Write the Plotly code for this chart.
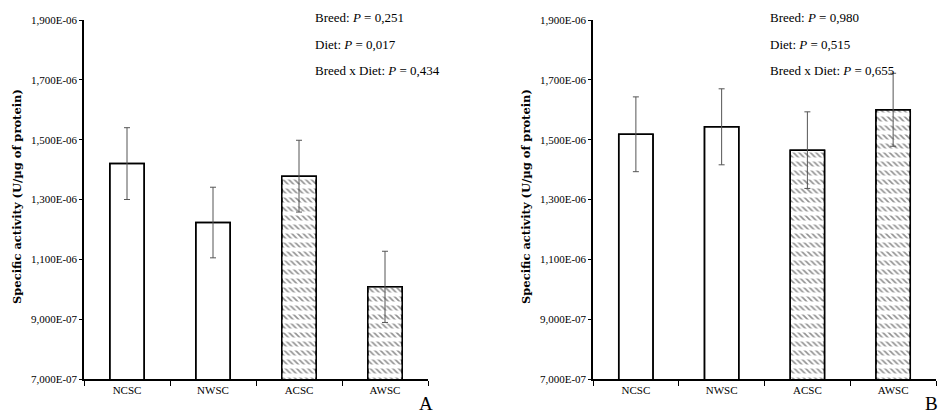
import plotly.graph_objects as go

categories = ["NCSC", "NWSC", "ACSC", "AWSC"]
values_a = [1.42e-6, 1.223e-6, 1.378e-6, 1.008e-6]
errors_a = [1.2e-7, 1.18e-7, 1.2e-7, 1.19e-7]
values_b = [1.518e-6, 1.543e-6, 1.465e-6, 1.600e-6]
errors_b = [1.25e-7, 1.27e-7, 1.28e-7, 1.22e-7]
hatch = ["", "", "\\", "\\"]
rows = ["", "", "-", "-"]
tick_vals = [7e-7, 9e-7, 1.1e-6, 1.3e-6, 1.5e-6, 1.7e-6, 1.9e-6]
tick_text = ["7,000E-07", "9,000E-07", "1,100E-06", "1,300E-06", "1,500E-06", "1,700E-06", "1,900E-06"]
stats_a = [("Breed", "0,251"), ("Diet", "0,017"), ("Breed x Diet", "0,434")]
stats_b = [("Breed", "0,980"), ("Diet", "0,515"), ("Breed x Diet", "0,655")]
y_title = "Specific activity (U/µg of protein)"

FONT = "Liberation Serif"
W, H = 942, 416

fig = go.Figure()

def add_panel(vals, errs, xa, ya):
    fig.add_trace(go.Bar(
        x=categories, y=vals, xaxis=xa, yaxis=ya, width=0.4,
        marker=dict(color="white", line=dict(color="black", width=1.5),
                    pattern=dict(shape=hatch, fgcolor="#222222", size=4, solidity=0.4)),
        showlegend=False, hoverinfo="skip"))
    fig.add_trace(go.Bar(
        x=categories, y=vals, xaxis=xa, yaxis=ya, width=0.4,
        marker=dict(color="rgba(0,0,0,0)", line=dict(color="black", width=1.5),
                    pattern=dict(shape=rows, fillmode="overlay", fgcolor="#ffffff", fgopacity=1,
                                 size=9, solidity=0.45)),
        error_y=dict(type="data", array=errs, visible=True, color="#555555", thickness=1, width=3),
        showlegend=False, hoverinfo="skip"))

add_panel(values_a, errors_a, "x", "y")
add_panel(values_b, errors_b, "x2", "y2")

ydom = [1 - 379 / H, 1 - 20 / H]
xcommon = dict(type="category", showline=True, linecolor="black", linewidth=1.5,
               ticks="outside", tickson="boundaries", ticklen=5, tickcolor="black",
               tickfont=dict(family=FONT, size=11, color="black"), showgrid=False,
               zeroline=False, fixedrange=True, automargin=False)
ycommon = dict(range=[7e-7, 1.9e-6], tickvals=tick_vals, ticktext=tick_text,
               showline=True, linecolor="black", linewidth=1.5, ticks="outside",
               ticklen=3, tickcolor="black", tickfont=dict(family=FONT, size=11, color="black"),
               showgrid=False, zeroline=False, domain=ydom, automargin=False)

fig.update_layout(
    width=W, height=H, margin=dict(l=0, r=0, t=0, b=0, autoexpand=False),
    paper_bgcolor="white", plot_bgcolor="white", barmode="overlay",
    xaxis=dict(domain=[84 / W, 428 / W], anchor="y", **xcommon),
    yaxis=dict(anchor="x", **ycommon),
    xaxis2=dict(domain=[593 / W, 936 / W], anchor="y2", **xcommon),
    yaxis2=dict(anchor="x2", **ycommon),
)

ann = []
for x0, stats in ((313, stats_a), (768, stats_b)):
    for i, (name, p) in enumerate(stats):
        ann.append(dict(x=x0 / W, y=1 - (18 + 26.5 * i) / H, xref="paper", yref="paper",
                        xanchor="left", yanchor="middle", showarrow=False,
                        text=f"{name}: <i>P</i> = {p}",
                        font=dict(family=FONT, size=13, color="black")))
for xc in (17, 526):
    ann.append(dict(x=xc / W, y=1 - 197 / H, xref="paper", yref="paper",
                    xanchor="center", yanchor="middle", showarrow=False, textangle=-90,
                    text=f"<b>{y_title}</b>", font=dict(family="DejaVu Serif", size=11.5, color="black")))
for xr, lab in ((435, "A"), (940, "B")):
    ann.append(dict(x=xr / W, y=1 - 403 / H, xref="paper", yref="paper",
                    xanchor="right", yanchor="middle", showarrow=False,
                    text=lab, font=dict(family=FONT, size=19, color="black")))
fig.update_layout(annotations=ann)

fig.write_html("out.html", config={"displayModeBar": False},
               post_script="document.body.style.margin='0';document.body.style.overflow='hidden';")
